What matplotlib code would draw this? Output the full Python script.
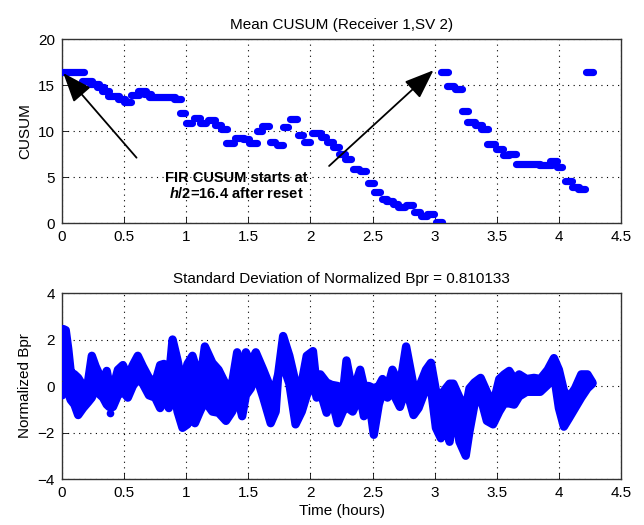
import numpy as np
import matplotlib
matplotlib.use('Agg')
import matplotlib.pyplot as plt

plt.rcParams['font.family'] = ['Liberation Sans', 'DejaVu Sans']
plt.rcParams['font.size'] = 11
plt.rcParams['mathtext.fontset'] = 'custom'
plt.rcParams['mathtext.it'] = 'Liberation Sans:italic:bold'

# mean CUSUM, piecewise constant runs (start hour, end hour, value)
cus_t0 = [0.02, 0.18, 0.24, 0.30, 0.34, 0.39, 0.47, 0.52, 0.57, 0.63, 0.68, 0.72, 0.92,
          0.965, 1.02, 1.08, 1.13, 1.19, 1.25, 1.30, 1.34, 1.41, 1.475, 1.52, 1.585, 1.63,
          1.69, 1.75, 1.795, 1.85, 1.915, 1.97, 2.03, 2.10, 2.15, 2.20, 2.25, 2.30, 2.36,
          2.42, 2.48, 2.53, 2.59, 2.63, 2.68, 2.72, 2.79, 2.85, 2.91, 2.96, 3.03,
          3.07, 3.12, 3.18, 3.24, 3.28, 3.34, 3.39, 3.44, 3.51, 3.57, 3.61, 3.67, 3.86,
          3.95, 4.00, 4.07, 4.12, 4.17, 4.24]
cus_t1 = [0.16, 0.22, 0.28, 0.32, 0.36, 0.44, 0.49, 0.54, 0.60, 0.66, 0.70, 0.89, 0.94,
          0.975, 1.03, 1.09, 1.14, 1.21, 1.26, 1.31, 1.37, 1.45, 1.485, 1.55, 1.595, 1.65,
          1.70, 1.76, 1.805, 1.87, 1.925, 1.98, 2.07, 2.11, 2.16, 2.21, 2.26, 2.31, 2.37,
          2.43, 2.49, 2.54, 2.60, 2.65, 2.69, 2.74, 2.81, 2.86, 2.92, 2.98, 3.04,
          3.09, 3.14, 3.20, 3.25, 3.31, 3.36, 3.41, 3.47, 3.53, 3.58, 3.64, 3.83, 3.93,
          3.97, 4.01, 4.09, 4.14, 4.19, 4.26]
cus_val = [16.4, 15.4, 15.1, 14.8, 14.3, 13.8, 13.5, 13.2, 13.9, 14.3, 14.0, 13.7, 13.5,
           11.95, 10.9, 11.4, 10.9, 11.2, 10.7, 10.2, 8.7, 9.25, 9.1, 8.7, 9.95, 10.55,
           8.8, 8.5, 10.4, 11.3, 9.6, 8.85, 9.75, 9.3, 8.85, 8.25, 7.55, 6.95, 5.9,
           5.6, 4.3, 3.35, 2.65, 2.4, 2.05, 1.7, 1.95, 1.25, 0.75, 1.0, 0.1,
           16.4, 14.9, 14.6, 12.2, 11.0, 10.6, 10.2, 8.6, 8.0, 7.35, 7.45, 6.45, 6.35,
           6.75, 6.05, 4.6, 3.9, 3.65, 16.4]

# normalized Bpr band: hour, lower and upper edge of the trace
bpr_t = [0.00, 0.01, 0.03, 0.05, 0.07, 0.10, 0.13, 0.17, 0.21, 0.24, 0.27, 0.30, 0.33,
         0.36, 0.38, 0.41, 0.45, 0.49, 0.53, 0.57, 0.61, 0.65, 0.70, 0.75, 0.79, 0.82,
         0.86, 0.89, 0.93, 0.97, 1.01, 1.05, 1.07, 1.11, 1.15, 1.21, 1.26, 1.32, 1.37,
         1.41, 1.45, 1.48, 1.52, 1.56, 1.62, 1.68, 1.72, 1.74, 1.78, 1.83, 1.88, 1.93,
         1.97, 2.02, 2.05, 2.08, 2.13, 2.17, 2.22, 2.26, 2.29, 2.34, 2.40, 2.43, 2.47,
         2.51, 2.55, 2.58, 2.62, 2.66, 2.72, 2.77, 2.83, 2.87, 2.93, 2.97, 3.01, 3.05,
         3.09, 3.12, 3.15, 3.20, 3.25, 3.28, 3.32, 3.37, 3.42, 3.47, 3.52, 3.56, 3.60,
         3.64, 3.68, 3.74, 3.80, 3.85, 3.91, 3.96, 4.00, 4.04, 4.08, 4.13, 4.18, 4.23,
         4.27]
bpr_lo = [-0.2, 0.0, 0.0, -0.3, -0.6, -0.8, -1.25, -0.95, -0.7, -0.5, 0.0, -0.35, -0.5,
          -0.8, -0.9, -0.9, -0.4, -0.25, -0.5, 0.0, 0.3, 0.1, -0.4, -0.5, -0.95, -0.5,
          -0.95, 0.2, -1.1, -1.8, -1.65, -0.9, -1.6, -1.1, -0.65, -1.1, -1.15, -1.5, -1.1,
          -0.4, -1.3, -0.4, -0.1, 0.5, -0.5, -1.6, -1.1, 0.45, 0.9, 0.1, -1.65, -1.1,
          -0.4, 0.2, -0.5, -0.25, -1.15, -0.5, -1.6, -1.1, -0.9, -1.1, -0.4, -1.3, -0.5,
          -2.1, -0.8, -0.25, -0.5, -0.25, -0.9, -0.1, -1.25, -0.95, -0.1, -0.1, -1.8, -2.25,
          -1.65, -2.4, -0.95, -2.4, -3.0, -1.95, -0.8, -0.5, -1.5, -1.65, -1.1, -0.75, -0.75,
          -0.8, -0.45, -0.25, -0.25, -0.25, 0.05, 0.5, -0.95, -1.75, -1.4, -0.95, -0.5, -0.1,
          0.1]
bpr_hi = [0.4, 2.45, 2.4, 1.6, 0.6, 0.5, 0.35, 0.0, 0.2, 1.3, 0.85, 0.5, 0.15,
          0.65, 0.1, -0.1, 0.7, 0.9, 0.4, 0.9, 1.3, 0.85, 0.35, 0.15, 0.9, 0.95,
          0.3, 2.0, 1.1, 0.0, 0.95, 1.3, 0.95, 0.15, 1.7, 1.0, 0.7, 0.05, 0.15,
          1.45, 0.35, 1.45, 1.0, 1.45, 0.7, -0.1, 0.05, 0.5, 2.15, 1.3, 0.15, 0.15,
          1.3, 1.5, 0.0, 0.5, 0.15, 0.05, 0.0, -0.4, 1.1, -0.3, 0.7, 0.0, 0.0,
          -0.1, 0.0, 0.3, -0.1, 0.7, 0.0, 1.7, 0.0, -0.1, 0.7, 1.0, -0.2, -0.4,
          -0.1, 0.1, 0.1, -0.5, -0.95, -0.1, 0.15, 0.35, -0.25, -0.8, 0.3, 0.5, 0.65,
          0.3, 0.5, 0.3, 0.35, 0.3, 0.7, 1.2, 0.7, -0.2, -0.5, -0.1, 0.5, 0.5,
          0.15]
dot_t = [0.00, 0.385]
dot_v = [-0.4, -1.15]

xticks = [0, 0.5, 1, 1.5, 2, 2.5, 3, 3.5, 4, 4.5]
xlabels = ['0', '0.5', '1', '1.5', '2', '2.5', '3', '3.5', '4', '4.5']


def matlab_axes(ax):
  ax.set_xlim(0, 4.5)
  ax.set_xticks(xticks)
  ax.set_xticklabels(xlabels)
  ax.tick_params(direction='in', length=4, width=0.6, labelsize=11, pad=5)
  ax.grid(True, linestyle=(0, (1, 4)), color='black', linewidth=0.8)
  for s in ax.spines.values():
    s.set_color('#333333'); s.set_linewidth(1.0)
  return ax


fig = plt.figure(figsize=(6.44, 5.25), dpi=100)
ax1 = fig.add_axes([0.0963, 0.5752, 0.868, 0.3505])
ax2 = fig.add_axes([0.0963, 0.0876, 0.868, 0.3543])

# top: mean CUSUM (each run drawn a bit wider, like the dense marker blobs)
pad = 0.018
ax1.hlines(cus_val, np.array(cus_t0) - pad, np.array(cus_t1) + pad, colors='#0000ff',
           linewidth=5.2, capstyle='round', zorder=3)
ax1.set_ylim(0, 20)
ax1.set_yticks([0, 5, 10, 15, 20])
matlab_axes(ax1)
ax1.set_title('Mean CUSUM (Receiver 1,SV 2)', fontsize=11, pad=7)
ax1.set_ylabel('CUSUM', fontsize=11, labelpad=4)
arrow = dict(arrowstyle='-|>,head_length=1.3,head_width=0.5', mutation_scale=14,
             color='black', lw=1.3, shrinkA=0, shrinkB=0)
ax1.annotate('', xy=(0.01, 16.3), xytext=(0.6, 7.1), arrowprops=arrow, zorder=4)
ax1.annotate('', xy=(2.99, 16.6), xytext=(2.15, 6.2), arrowprops=arrow, zorder=4)
ax1.text(1.4, 4.0, 'FIR CUSUM starts at\n$h$/2=16.4 after reset', ha='center', va='center',
         fontsize=10.5, fontweight='bold', linespacing=1.1, zorder=5)

# bottom: normalized Bpr, thick outlines give the blob look of the dense trace
ax2.fill_between(bpr_t, bpr_lo, bpr_hi, color='#0000ff', linewidth=0, zorder=3)
for edge in (bpr_lo, bpr_hi):
  ax2.plot(bpr_t, edge, color='#0000ff', lw=6, solid_capstyle='round',
           solid_joinstyle='round', zorder=3)
ax2.plot(dot_t, dot_v, 'o', color='#0000ff', ms=4.5, zorder=3)
ax2.set_ylim(-4, 4)
ax2.set_yticks([-4, -2, 0, 2, 4])
matlab_axes(ax2)
ax2.set_title('Standard Deviation of Normalized Bpr = 0.810133', fontsize=11, pad=7)
ax2.set_ylabel('Normalized Bpr', fontsize=11, labelpad=4)
ax2.set_xlabel('Time (hours)', fontsize=11, labelpad=3)

fig.savefig('out.png', dpi=100)
